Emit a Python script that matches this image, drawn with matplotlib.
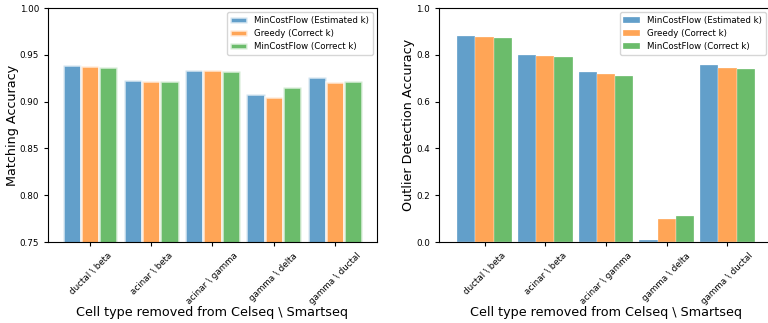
import numpy as np
import matplotlib.pyplot as plt

categories = ['ductal \\ beta', 'acinar \\ beta', 'acinar \\ gamma',
              'gamma \\ delta', 'gamma \\ ductal']
series_names = ['MinCostFlow (Estimated k)', 'Greedy (Correct k)',
                'MinCostFlow (Correct k)']

matching_est = [0.939, 0.923, 0.934, 0.908, 0.9265]
matching_greedy = [0.938, 0.922, 0.934, 0.9045, 0.921]
matching_mcf = [0.9375, 0.922, 0.9325, 0.916, 0.9225]

outlier_est = [0.879, 0.800, 0.727, 0.010, 0.758]
outlier_greedy = [0.876, 0.793, 0.720, 0.098, 0.743]
outlier_mcf = [0.872, 0.791, 0.709, 0.109, 0.740]

colors = ['#1f77b4', '#ff7f0e', '#2ca02c']

fig = plt.figure(figsize=(7.68, 3.23), dpi=100)
ax1 = fig.add_axes([48 / 768, 1 - 242 / 323, 329 / 768, 234 / 323])
ax2 = fig.add_axes([439 / 768, 1 - 242 / 323, 334 / 768, 234 / 323])

x = np.arange(len(categories))
w = 0.297

# left: matching accuracy, bars separated by white edges
for i, (vals, name) in enumerate(zip([matching_est, matching_greedy, matching_mcf], series_names)):
    ax1.bar(x + (i - 1) * w, vals, w, color=colors[i], alpha=0.7,
            edgecolor='white', linewidth=1.9, label=name)
ax1.set_ylim(0.75, 1.0)
ax1.set_yticks([0.75, 0.80, 0.85, 0.90, 0.95, 1.00])
ax1.set_xlim(-0.69, 4.69)
ax1.set_ylabel('Matching Accuracy', fontsize=9.2, labelpad=0.5)

# right: outlier detection accuracy, bars touching
for i, (vals, name) in enumerate(zip([outlier_est, outlier_greedy, outlier_mcf], series_names)):
    ax2.bar(x + (i - 1) * 0.3, vals, 0.3, color=colors[i], alpha=0.7,
            edgecolor='white', linewidth=0.3, label=name)
ax2.set_ylim(0.0, 1.0)
ax2.set_yticks([0.0, 0.2, 0.4, 0.6, 0.8, 1.0])
ax2.set_xlim(-0.75, 4.75)
ax2.set_ylabel('Outlier Detection Accuracy', fontsize=9.2, labelpad=1)

for ax in (ax1, ax2):
    ax.set_xticks(x)
    ax.set_xticklabels(categories, rotation=45, fontsize=6.3)
    ax.tick_params(axis='y', labelsize=6.3)
    ax.tick_params(length=3)
    ax.set_xlabel('Cell type removed from Celseq \\ Smartseq', fontsize=9.2, labelpad=0)

ax1.legend(loc='upper right', fontsize=6.2)
ax2.legend(loc='upper right', fontsize=6.2,
           bbox_to_anchor=(770 / 768, 1 - 8 / 323), bbox_transform=fig.transFigure)

fig.savefig('out.png', dpi=100)
